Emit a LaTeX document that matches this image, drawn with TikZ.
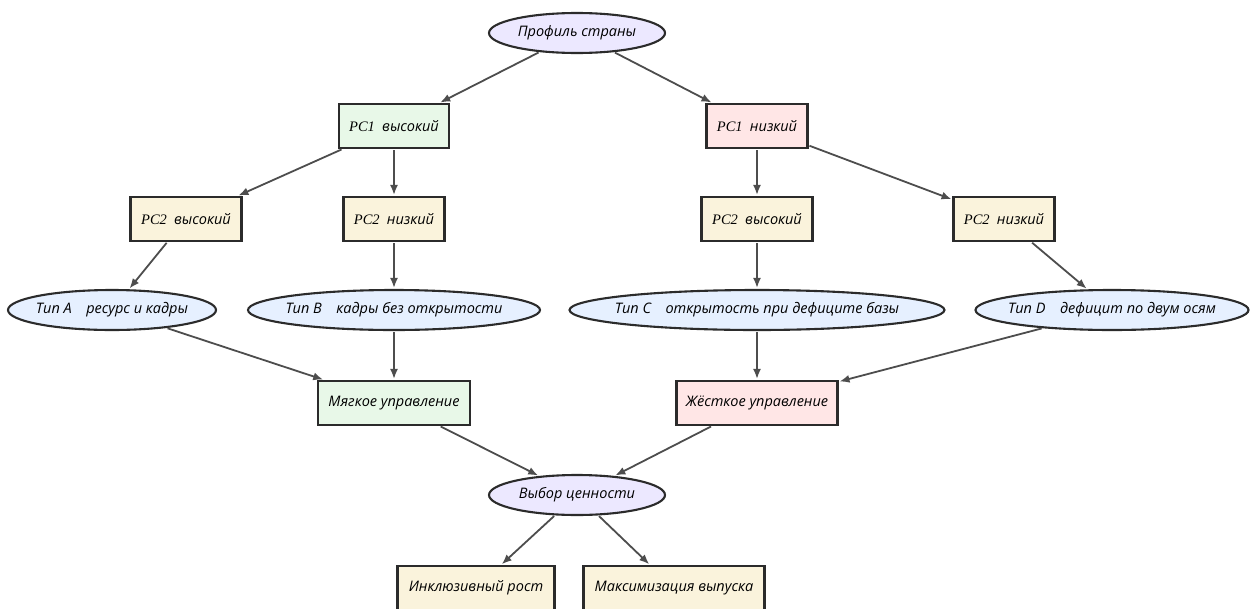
\documentclass[tikz,border=0pt]{standalone}
\usepackage{fontspec}
\setmainfont{Open Sans}
\newfontfamily\pcfont{Liberation Serif}
\usepackage{xcolor}
\usetikzlibrary{arrows.meta,shapes.geometric}
\definecolor{EdgeGray}{HTML}{4D4D4D}
\definecolor{LineDark}{HTML}{2B2B2B}
\definecolor{RootLilac}{HTML}{ECE8FF}
\definecolor{TypeBlue}{HTML}{E6F0FF}
\definecolor{HighGreen}{HTML}{E8F8E8}
\definecolor{LowPink}{HTML}{FFE6E6}
\definecolor{SplitCream}{HTML}{FAF3DC}
\newcommand\pc[1]{{\pcfont\itshape #1}}

\begin{document}
\begin{tikzpicture}[
      x=1pt,y=-1pt,
      font=\fontsize{14.5}{17}\selectfont\itshape,
      >={Latex[length=10pt,width=8pt]},
      oval/.style={ellipse,draw=LineDark,line width=2.1pt,inner xsep=-20pt,inner ysep=0pt,minimum height=40pt},
      card/.style={rectangle,draw=LineDark,line width=2.1pt,inner sep=0pt,minimum height=44pt},
      arr/.style={->,line width=1.8pt,draw=EdgeGray,shorten >=1pt,shorten <=1pt}
    ]
      \useasboundingbox (0,0) rectangle (1250,608);
      \clip (0,0) rectangle (1250,608);

      % top level
      \node[oval,fill=RootLilac,minimum width=176pt] (profile) at (577,33) {Профиль страны};
      \node[card,fill=HighGreen,minimum width=110pt] (pc1hi) at (394,126) {\pc{PC1}\enspace высокий};
      \node[card,fill=LowPink,minimum width=101pt] (pc1lo) at (757,126) {\pc{PC1}\enspace низкий};

      % second component
      \node[card,fill=SplitCream,minimum width=111pt] (hihi) at (186,219) {\pc{PC2}\enspace высокий};
      \node[card,fill=SplitCream,minimum width=101pt] (hilo) at (394,219) {\pc{PC2}\enspace низкий};
      \node[card,fill=SplitCream,minimum width=111pt] (lohi) at (757,219) {\pc{PC2}\enspace высокий};
      \node[card,fill=SplitCream,minimum width=101pt] (lolo) at (1004,219) {\pc{PC2}\enspace низкий};

      % types
      \node[oval,fill=TypeBlue,minimum width=208pt] (typeA) at (112,310) {Тип A\quad ресурс и кадры};
      \node[oval,fill=TypeBlue,minimum width=292pt] (typeB) at (394,310) {Тип B\quad кадры без открытости};
      \node[oval,fill=TypeBlue,minimum width=375pt] (typeC) at (757,310) {Тип C\quad открытость при дефиците базы};
      \node[oval,fill=TypeBlue,minimum width=273pt] (typeD) at (1112,310) {Тип D\quad дефицит по двум осям};

      % regimes
      \node[card,fill=HighGreen,minimum width=152pt] (soft) at (394,403) {Мягкое управление};
      \node[card,fill=LowPink,minimum width=161pt] (hard) at (757,403) {Жёсткое управление};

      % value choice
      \node[oval,fill=RootLilac,minimum width=176pt] (choice) at (577,495) {Выбор ценности};
      \node[card,fill=SplitCream,minimum width=157pt] (inclusive) at (476,588) {Инклюзивный рост};
      \node[card,fill=SplitCream,minimum width=181pt] (output) at (674,588) {Максимизация выпуска};

      \draw[arr] (profile) -- (pc1hi);
      \draw[arr] (profile) -- (pc1lo);
      \draw[arr] (pc1hi) -- (hihi);
      \draw[arr] (pc1hi) -- (hilo);
      \draw[arr] (pc1lo) -- (lohi);
      \draw[arr] (pc1lo) -- (lolo);
      \draw[arr] (hihi) -- (typeA);
      \draw[arr] (hilo) -- (typeB);
      \draw[arr] (lohi) -- (typeC);
      \draw[arr] (lolo) -- (typeD);
      \draw[arr] (typeA) -- (soft);
      \draw[arr] (typeB) -- (soft);
      \draw[arr] (typeC) -- (hard);
      \draw[arr] (typeD) -- (hard);
      \draw[arr] (soft) -- (choice);
      \draw[arr] (hard) -- (choice);
      \draw[arr] (choice) -- (inclusive);
      \draw[arr] (choice) -- (output);
    \end{tikzpicture}
\end{document}
